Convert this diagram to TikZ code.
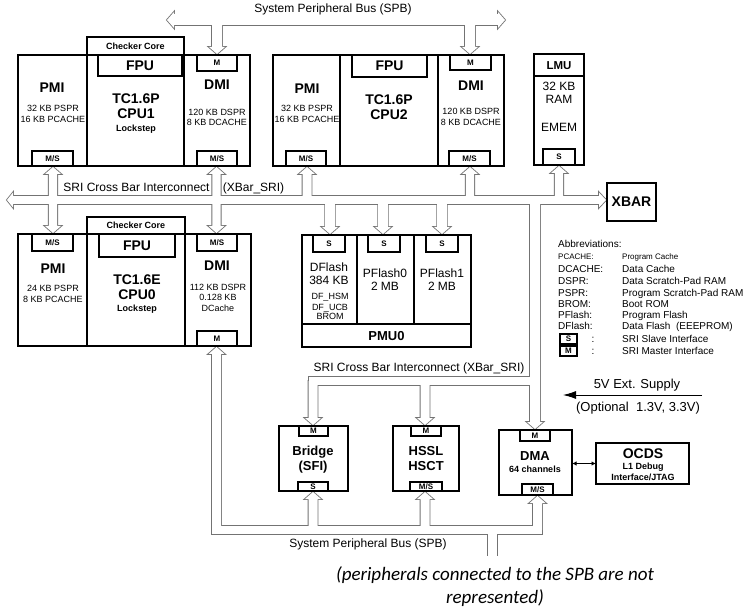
\documentclass[tikz,border=0pt]{standalone}
\usepackage{fontspec}
\setmainfont{Liberation Sans}
\newfontfamily\carl{Carlito}
\usetikzlibrary{arrows.meta}
\definecolor{busc}{gray}{0.45}

\newcommand\mybox[6][]{%
 \pgfmathsetmacro\mbw{#5-#3}\pgfmathsetmacro\mbh{#6-#4}%
 \pgfmathsetmacro\mbx{(#3+#5)/2}\pgfmathsetmacro\mby{(#4+#6)/2}%
 \node[bxs,#1,minimum width=\mbw pt,minimum height=\mbh pt] (#2) at (\mbx,\mby) {};}
% hollow arrow pointing up: style, x, ybase, ytip, halfwidth
\newcommand\busup[5]{%
 \path[#1] ({#2-#5},#3) -- ({#2-#5},{#4+7}) -- ({#2-8},{#4+7}) -- (#2,#4) -- ({#2+8},{#4+7}) -- ({#2+#5},{#4+7}) -- ({#2+#5},#3) -- cycle;}
\newcommand\busdn[5]{%
 \path[#1] ({#2-#5},#3) -- ({#2-#5},{#4-7}) -- ({#2-8},{#4-7}) -- (#2,#4) -- ({#2+8},{#4-7}) -- ({#2+#5},{#4-7}) -- ({#2+#5},#3) -- cycle;}
\newcommand\allbuses[1]{%
 % top SPB
 \path[#1] (173,14.5) rectangle (499,25.5);
 \path[#1] (174,12) -- (167,20) -- (174,28) -- cycle;
 \path[#1] (498,12) -- (505,20) -- (498,28) -- cycle;
 \busdn{#1}{217}{20}{54}{5}
 \busdn{#1}{470}{20}{54}{5}
 % upper SRI
 \path[#1] (12,196) rectangle (600,204);
 \path[#1] (13,192.5) -- (7,200) -- (13,207.5) -- cycle;
 \path[#1] (599,192.5) -- (606,200) -- (599,207.5) -- cycle;
 \busup{#1}{53}{200}{167}{4.2}
 \busup{#1}{216.5}{200}{167}{4.2}
 \busup{#1}{307}{200}{167}{4.5}
 \busup{#1}{470}{200}{167}{4.2}
 \busup{#1}{559}{200}{166}{4.2}
 \busdn{#1}{53}{200}{233}{4.2}
 \busdn{#1}{216.5}{200}{233}{4.2}
 \busdn{#1}{330}{200}{234}{4.8}
 \busdn{#1}{383}{200}{234}{4.8}
 \busdn{#1}{442}{200}{234}{4.8}
 \busdn{#1}{535}{200}{429}{5}
 % lower SRI
 \path[#1] (308.5,377) rectangle (535,385);
 \busdn{#1}{313}{381}{425}{4.5}
 \busdn{#1}{425}{381}{425}{4.5}
 % lower SPB
 \path[#1] (212,526) rectangle (542,534);
 \busup{#1}{216.5}{530}{347}{4.5}
 \busup{#1}{313}{530}{492}{4.5}
 \busup{#1}{425}{530}{492}{4.5}
 \busup{#1}{537.5}{530}{496}{4.5}
 \path[#1] (488,530) rectangle (497,558);
}

\tikzset{
 bxs/.style={draw, line width=1.1pt, inner sep=0pt, outer sep=0pt},
 lab/.style={inner sep=0pt, anchor=base},
 lft/.style={anchor=base west},
 b14/.style={lab, font=\fontsize{14}{16}\selectfont\bfseries, yshift=-5pt},
 b13/.style={lab, font=\fontsize{13}{15}\selectfont\bfseries, yshift=-4.7pt},
 b12/.style={lab, font=\fontsize{11.5}{13}\selectfont\bfseries, yshift=-4.1pt},
 r13/.style={lab, font=\fontsize{13}{15}\selectfont, yshift=-4.7pt},
 r12/.style={lab, font=\fontsize{12}{14}\selectfont, yshift=-4.3pt},
 r10/.style={lab, font=\fontsize{10}{12}\selectfont, yshift=-3.6pt},
 r9/.style={lab, font=\fontsize{9}{10}\selectfont, yshift=-3.2pt},
 r8/.style={lab, font=\fontsize{8}{9}\selectfont, yshift=-2.9pt},
 b9/.style={lab, font=\fontsize{9}{10}\selectfont\bfseries, yshift=-3.2pt},
 b8/.style={lab, font=\fontsize{8}{9}\selectfont\bfseries, yshift=-2.9pt},
}

\begin{document}
\begin{tikzpicture}[x=1pt,y=-1pt]
\fill[white] (0,0) rectangle (744,609);
\useasboundingbox (0,0) rectangle (744,609);

% ---------- buses (hollow arrows, merged) ----------
\allbuses{draw=busc, line width=1.7pt}
\allbuses{fill=white}
\fill[white] (485,556) rectangle (500,562);

% ---------- CPU1 ----------
\mybox{pmiA}{18}{55}{87}{166}
\mybox{coreA}{87}{55}{184}{166}
\mybox{dmiA}{184}{55}{250}{166}
\mybox{chkA}{87}{37}{184}{55}
\mybox{fpuA}{98}{55}{182}{76}
\mybox{dmimA}{197}{55}{237}{71}
\mybox{pmimsA}{32}{151}{73}{166}
\mybox{dmimsA}{197}{151}{237}{166}
\node[b14] (tpmiA) at (52,88) {PMI};
\node[r9] (tpA1) at (53,108) {32 KB PSPR};
\node[r9] (tpA2) at (53,119) {16 KB PCACHE};
\node[b9] (tchkA) at (chkA) {Checker Core};
\node[b14] (tfpuA) at (fpuA) {FPU};
\node[b14] (ttcA) at (136,99) {TC1.6P};
\node[b14] (tcpuA) at (136,114) {CPU1};
\node[b9] (tlsA) at (136,128) {Lockstep};
\node[b14] (tdmiA) at (217,85) {DMI};
\node[r9] (tdA1) at (217,112) {120 KB DSPR};
\node[r9] (tdA2) at (217,122) {8 KB DCACHE};
\node[b8] (ldmimA) at (dmimA) {M};
\node[b8] (lpmimsA) at (pmimsA) {M/S};
\node[b8] (ldmimsA) at (dmimsA) {M/S};

% ---------- CPU2 ----------
\mybox{pmiB}{273}{55}{340}{166}
\mybox{coreB}{340}{55}{438}{166}
\mybox{dmiB}{438}{55}{504}{166}
\mybox{fpuB}{352}{55}{427}{77}
\mybox{dmimB}{450}{55}{491}{70}
\mybox{pmimsB}{286}{151}{326}{166}
\mybox{dmimsB}{449}{151}{490}{166}
\node[b14] (tpmiB) at (307,89) {PMI};
\node[r9] (tpB1) at (307,108) {32 KB PSPR};
\node[r9] (tpB2) at (307,119) {16 KB PCACHE};
\node[b14] (tfpuB) at (fpuB) {FPU};
\node[b14] (ttcB) at (389,100) {TC1.6P};
\node[b14] (tcpuB) at (389,115) {CPU2};
\node[b14] (tdmiB) at (471,86) {DMI};
\node[r9] (tdB1) at (471,111) {120 KB DSPR};
\node[r9] (tdB2) at (471,122) {8 KB DCACHE};
\node[b8] (ldmimB) at (dmimB) {M};
\node[b8] (lpmimsB) at (pmimsB) {M/S};
\node[b8] (ldmimsB) at (dmimsB) {M/S};

% ---------- LMU / XBAR ----------
\mybox{lmuh}{534}{54}{584}{76}
\mybox{lmu}{534}{76}{584}{165}
\mybox{lmus}{543}{149}{575}{165}
\node[b12] (tlmu) at (lmuh) {LMU};
\node[r12] (tlmu1) at (559,86) {32 KB};
\node[r12] (tlmu2) at (559,99) {RAM};
\node[r12] (tlmu3) at (559,127) {EMEM};
\node[b8] (llmus) at (lmus) {S};
\mybox{xbar}{607}{183}{656}{221}
\node[b14] (txbar) at (xbar) {XBAR};

% ---------- CPU0 ----------
\mybox{pmiC}{18}{234}{87}{346}
\mybox{coreC}{87}{234}{185}{346}
\mybox{dmiC}{185}{234}{251}{346}
\mybox{chkC}{87}{217}{185}{234}
\mybox{fpuC}{99}{234}{175}{257}
\mybox{pmimsC}{32}{234}{73}{251}
\mybox{dmimsC}{197}{234}{237}{251}
\mybox{dmimC}{197}{331}{237}{346}
\node[b14] (tpmiC) at (53,269) {PMI};
\node[r9] (tpC1) at (53,288) {24 KB PSPR};
\node[r9] (tpC2) at (53,299) {8 KB PCACHE};
\node[b9] (tchkC) at (chkC) {Checker Core};
\node[b14] (tfpuC) at (fpuC) {FPU};
\node[b14] (ttcC) at (137,280) {TC1.6E};
\node[b14] (tcpuC) at (137,295) {CPU0};
\node[b9] (tlsC) at (137,308) {Lockstep};
\node[b14] (tdmiC) at (217,266) {DMI};
\node[r9] (tdC1) at (218,287) {112 KB DSPR};
\node[r9] (tdC2) at (218,297) {0.128 KB};
\node[r9] (tdC3) at (218,308) {DCache};
\node[b8] (lpmimsC) at (pmimsC) {M/S};
\node[b8] (ldmimsC) at (dmimsC) {M/S};
\node[b8] (ldmimC) at (dmimC) {M};

% ---------- PMU0 ----------
\mybox{dfl}{302}{235}{357}{324}
\mybox{pfa}{357}{235}{414}{324}
\mybox{pfb}{414}{235}{471}{324}
\mybox{pmu}{302}{324}{471}{347}
\mybox{sdf}{313}{235}{345}{252}
\mybox{spfa}{368}{235}{400}{252}
\mybox{spfb}{426}{235}{458}{252}
\node[b8] (lsdf) at (sdf) {S};
\node[b8] (lspfa) at (spfa) {S};
\node[b8] (lspfb) at (spfb) {S};
\node[r12] (tdf1) at (329,267) {DFlash};
\node[r12] (tdf2) at (329,280) {384 KB};
\node[r9] (tdf3) at (330,296) {DF\_HSM};
\node[r9] (tdf4) at (330,307) {DF\_UCB};
\node[r9] (tdf5) at (330,316) {BROM};
\node[r12] (tpfa1) at (385,273) {PFlash0};
\node[r12] (tpfa2) at (385,286) {2 MB};
\node[r12] (tpfb1) at (442,273) {PFlash1};
\node[r12] (tpfb2) at (442,286) {2 MB};
\node[b13] (tpmu) at (pmu) {PMU0};

% ---------- bus labels ----------
\node[r12] (tspbtop) at (333,8) {System Peripheral Bus (SPB)};
\node[r12] (tsri1) at (136.5,187) {SRI Cross Bar Interconnect};
\node[r12] (tsri2) at (253.5,187) {(XBar\_SRI)};
\node[r12] (tsri3) at (419,367) {SRI Cross Bar Interconnect (XBar\_SRI)};
\node[r12] (tspbbot) at (368,543) {System Peripheral Bus (SPB)};

% ---------- abbreviations ----------
\node[r10,lft] (ab0) at (558,244) {Abbreviations:};
\node[r8,lft] (ab1) at (558,257) {PCACHE:};
\node[r8,lft] (ab1d) at (622,257) {Program Cache};
\node[r10,lft] (ab2) at (558,269) {DCACHE:};
\node[r10,lft] (ab2d) at (622,269) {Data Cache};
\node[r10,lft] (ab3) at (558,281) {DSPR:};
\node[r10,lft] (ab3d) at (622,281) {Data Scratch-Pad RAM};
\node[r10,lft] (ab4) at (558,293) {PSPR:};
\node[r10,lft] (ab4d) at (622,293) {Program Scratch-Pad RAM};
\node[r10,lft] (ab5) at (558,304) {BROM:};
\node[r10,lft] (ab5d) at (622,304) {Boot ROM};
\node[r10,lft] (ab6) at (558,315) {PFlash:};
\node[r10,lft] (ab6d) at (622,315) {Program Flash};
\node[r10,lft] (ab7) at (558,326) {DFlash:};
\node[r10,lft] (ab7d) at (622,326) {Data Flash\ \ (EEEPROM)};
\mybox[line width=1.4pt]{icS}{560}{334}{577}{344}
\node[b8] (licS) at (icS) {S};
\node[r10] (colS) at (593,339) {:};
\node[r10,lft] (ab8d) at (622,339) {SRI Slave Interface};
\mybox[line width=1.4pt]{icM}{560}{346}{577}{356}
\node[b8] (licM) at (icM) {M};
\node[r10] (colM) at (593,351) {:};
\node[r10,lft] (ab9d) at (622,351) {SRI Master Interface};

% ---------- supply ----------
\node[r13] (tsup1) at (637,384) {5V Ext. Supply};
\node[r13] (tsup2) at (638,407) {(Optional\ \ 1.3V, 3.3V)};
\coordinate (supA) at (702,395);
\coordinate (supB) at (563,395);
\draw[line width=0.9pt, -{Latex[length=13pt,width=8pt]}] (supA) -- (supB);

% ---------- bottom blocks ----------
\mybox{brg}{279}{426}{348}{491}
\mybox{brgm}{299}{426}{328}{436}
\mybox{brgs}{298}{482}{328}{491}
\node[b8] (lbrgm) at (brgm) {M};
\node[b8] (lbrgs) at (brgs) {S};
\node[b13] (tbrg1) at (313,451) {Bridge};
\node[b13] (tbrg2) at (313,466) {(SFI)};

\mybox{hss}{393}{426}{459}{491}
\mybox{hssm}{411}{426}{441}{436}
\mybox{hssms}{410}{482}{442}{491}
\node[b8] (lhssm) at (hssm) {M};
\node[b8] (lhssms) at (hssms) {M/S};
\node[b13] (thss1) at (426,451) {HSSL};
\node[b13] (thss2) at (426,466) {HSCT};

\mybox{dma}{499}{430}{572}{495}
\mybox{dmam}{520}{430}{550}{441}
\mybox{dmams}{522}{484}{553}{495}
\node[b8] (ldmam) at (dmam) {M};
\node[b8] (ldmams) at (dmams) {M/S};
\node[b13] (tdma1) at (535,456) {DMA};
\node[b9] (tdma2) at (535,469) {64 channels};

\mybox{ocds}{596}{443}{689}{484}
\node[b14] (tocds1) at (643,453) {OCDS};
\node[b9] (tocds2) at (643,466) {L1 Debug};
\node[b9] (tocds3) at (643,477) {Interface/JTAG};
\draw[line width=0.9pt, {Latex[length=4.5pt,width=4.5pt]}-{Latex[length=4.5pt,width=4.5pt]}] (dma.east |- ocds.west) -- (ocds.west);

% ---------- note ----------
\node[lab, font=\carl\itshape\fontsize{19}{22}\selectfont, yshift=-6.1pt] (note1) at (495,574) {(peripherals connected to the SPB are not};
\node[lab, font=\carl\itshape\fontsize{19}{22}\selectfont, yshift=-6.1pt] (note2) at (495,597) {represented)};
\end{tikzpicture}
\end{document}
